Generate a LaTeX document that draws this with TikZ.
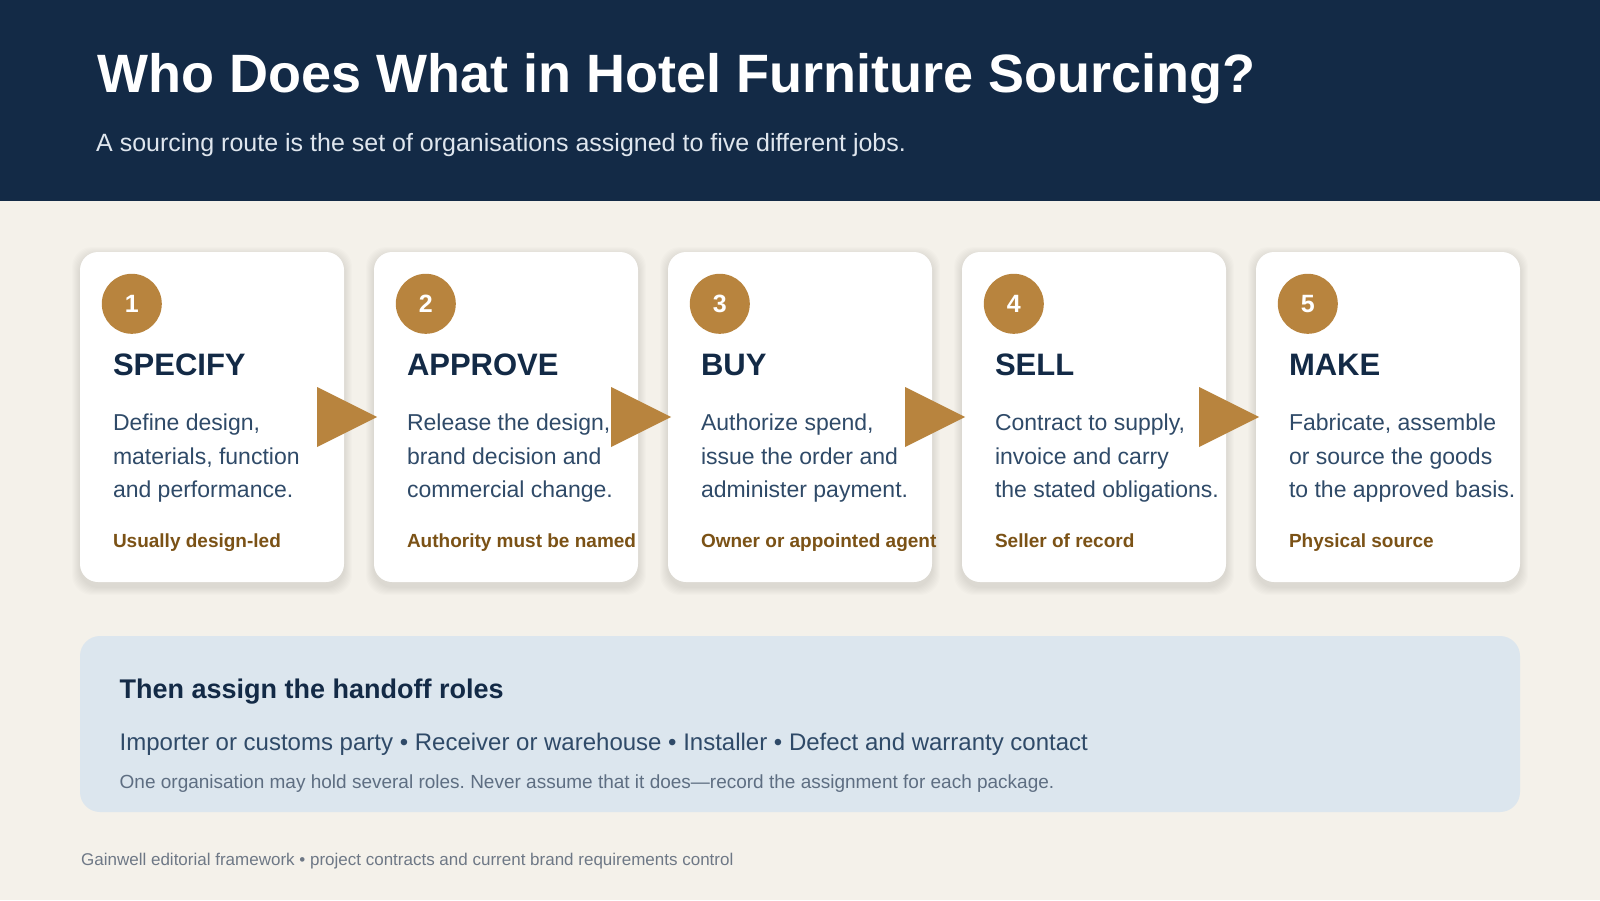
\documentclass[tikz,border=0pt]{standalone}
\usepackage{fontspec}
\setmainfont{Liberation Sans}
\usetikzlibrary{positioning}
\frenchspacing

\definecolor{navy}{HTML}{132A46}
\definecolor{cream}{HTML}{F4F1EA}
\definecolor{gold}{HTML}{B8843E}
\definecolor{slate}{HTML}{2F4A68}
\definecolor{tagbrown}{HTML}{7B5216}
\definecolor{panelblue}{HTML}{DCE6EE}
\definecolor{subtext}{HTML}{DFE6EE}
\definecolor{notegray}{HTML}{5E6E82}
\definecolor{footgray}{HTML}{6E7886}

\begin{document}
\begin{tikzpicture}[x=1pt, y=-1pt,
    card/.style={fill=white, rounded corners=18pt, minimum width=264pt,
        minimum height=330pt, inner sep=0pt},
    badge/.style={circle, fill=gold, minimum size=60pt, inner sep=0pt,
        text=white, font=\fontsize{25}{30}\selectfont\bfseries},
    cardhead/.style={anchor=base west, inner sep=0pt, text=navy,
        font=\fontsize{31}{36}\selectfont\bfseries},
    carddesc/.style={anchor=base west, inner sep=0pt, text=slate, align=left,
        font=\fontsize{23}{33.5}\selectfont},
    cardtag/.style={anchor=base west, inner sep=0pt, text=tagbrown,
        font=\fontsize{19}{22}\selectfont\bfseries}]
    \useasboundingbox (0,0) rectangle (1600,900);
    \fill[cream] (0,0) rectangle (1600,900);

    % header band
    \fill[navy] (0,0) rectangle (1600,201);
    \node[anchor=base west, inner sep=0pt, text=white,
        font=\fontsize{54}{60}\selectfont\bfseries] (title) at (97,92)
        {Who Does What in Hotel Furniture Sourcing?};
    \node[anchor=base west, inner sep=0pt, text=subtext,
        font=\fontsize{25}{30}\selectfont] (subtitle) at (96,151.5)
        {A sourcing route is the set of organisations assigned to five different jobs.};

    % cards
    \foreach \i/\name/\desc/\tag in {
        1/SPECIFY/{Define design,\\materials, function\\and performance.}/{Usually design-led},
        2/APPROVE/{Release the design,\\brand decision and\\commercial change.}/{Authority must be named},
        3/BUY/{Authorize spend,\\issue the order and\\administer payment.}/{Owner or appointed agent},
        4/SELL/{Contract to supply,\\invoice and carry\\the stated obligations.}/{Seller of record},
        5/MAKE/{Fabricate, assemble\\or source the goods\\to the approved basis.}/{Physical source}} {
        \foreach \s in {1,...,8}
            \fill[black, opacity=0.010, rounded corners=20pt]
                ({80+294*(\i-1)-\s}, {255-\s}) rectangle ({344+294*(\i-1)+\s}, {587+\s});
        \node[card] (card\i) at ({212+294*(\i-1)}, 417) {};
        \node[badge] (num\i) at ([xshift=52pt, yshift=-52pt]card\i.north west) {\i};
        \node[cardhead] (head\i) at ([xshift=33pt, yshift=-124pt]card\i.north west) {\name};
        % base of a multi-line node is its last line
        \node[carddesc] (desc\i) at ([xshift=33pt, yshift=-246pt]card\i.north west) {\desc};
        \node[cardtag] (tag\i) at ([xshift=33pt, yshift=-296pt]card\i.north west) {\tag};
    }

    % arrows between cards
    \foreach \i in {1,...,4}
        \fill[gold] ([xshift=-27pt, yshift=30pt]card\i.east) -- ++(60,30) -- ++(-60,30) -- cycle;

    % handoff panel
    \fill[panelblue, rounded corners=20pt] (80,636) rectangle (1520,812);
    \node[anchor=base west, inner sep=0pt, text=navy,
        font=\fontsize{27}{32}\selectfont\bfseries] (handoff) at (119.5,698)
        {Then assign the handoff roles};
    \node[anchor=base west, inner sep=0pt, text=slate,
        font=\fontsize{24}{28}\selectfont] (roles) at (119.5,750)
        {Importer or customs party \textbullet{} Receiver or warehouse \textbullet{} Installer \textbullet{} Defect and warranty contact};
    \node[anchor=base west, inner sep=0pt, text=notegray,
        font=\fontsize{19}{23}\selectfont] (note) at (119.5,788)
        {One organisation may hold several roles. Never assume that it does---record the assignment for each package.};

    % footer
    \node[anchor=base west, inner sep=0pt, text=footgray,
        font=\fontsize{17}{20}\selectfont] (footer) at (81,865)
        {Gainwell editorial framework \textbullet{} project contracts and current brand requirements control};
\end{tikzpicture}
\end{document}
